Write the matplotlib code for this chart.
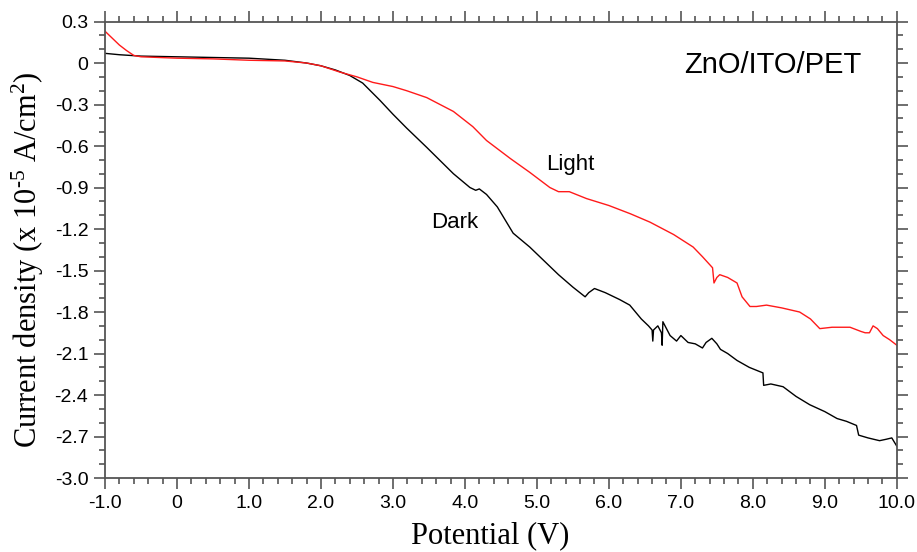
#!/usr/bin/env python3

import numpy as np
from matplotlib import pyplot as plt
from matplotlib.ticker import MultipleLocator

plt.rcParams["mathtext.fontset"] = "custom"
plt.rcParams["mathtext.rm"] = "Liberation Serif"
plt.rcParams["mathtext.it"] = "Liberation Serif:italic"

# Dark curve (black)
dark_v = [-1.0, -0.8, -0.5, 0.0, 0.5, 1.0, 1.5, 1.8, 2.0, 2.2, 2.4, 2.58,
          2.82, 3.0, 3.19, 3.47, 3.84, 4.07, 4.15, 4.2, 4.3, 4.45, 4.67,
          4.9, 5.14, 5.3, 5.5, 5.67, 5.72, 5.8, 5.95, 6.15, 6.29, 6.45, 6.55,
          6.6, 6.61, 6.62, 6.68, 6.73, 6.74, 6.75, 6.78, 6.85, 6.94, 7.0, 7.1,
          7.2, 7.3, 7.35, 7.43, 7.5, 7.55, 7.65, 7.78, 7.95, 8.14, 8.15, 8.25,
          8.42, 8.6, 8.79, 9.0, 9.17, 9.3, 9.44, 9.47, 9.6, 9.76, 9.85, 9.93,
          10.0]
dark_j = [0.07, 0.06, 0.05, 0.045, 0.04, 0.035, 0.02, 0.0, -0.02, -0.05,
          -0.09, -0.145, -0.27, -0.37, -0.47, -0.61, -0.80, -0.90,
          -0.92, -0.91, -0.95, -1.04, -1.23, -1.33, -1.45, -1.53, -1.62,
          -1.69, -1.66, -1.63, -1.66, -1.71, -1.75, -1.85, -1.90, -1.93,
          -2.01, -1.93, -1.90, -1.95, -2.04, -1.87, -1.90, -1.97, -2.01,
          -1.97, -2.02, -2.03, -2.06, -2.02, -1.99, -2.03, -2.07, -2.10,
          -2.15, -2.20, -2.24, -2.33, -2.32, -2.34, -2.41, -2.47, -2.52,
          -2.57, -2.59, -2.62, -2.69, -2.71, -2.73, -2.72, -2.71, -2.77]

# Light curve (red)
light_v = [-1.0, -0.9, -0.8, -0.7, -0.6, -0.5, 0.0, 0.5, 1.0, 1.5, 1.8, 2.0,
           2.26, 2.5, 2.72, 3.0, 3.19, 3.47, 3.84, 4.11, 4.3, 4.63, 4.9,
           5.18, 5.3, 5.45, 5.69, 6.0, 6.3, 6.57, 6.9, 7.17, 7.3, 7.44, 7.46,
           7.5, 7.54, 7.65, 7.78, 7.85, 7.96, 8.05, 8.19, 8.4, 8.65, 8.8,
           8.93, 9.1, 9.35, 9.5, 9.56, 9.62, 9.67, 9.73, 9.81, 9.9, 10.0]
light_j = [0.23, 0.18, 0.13, 0.09, 0.055, 0.045, 0.035, 0.03, 0.02, 0.015,
           0.0, -0.02, -0.065, -0.10, -0.14, -0.17, -0.20, -0.25, -0.35,
           -0.46, -0.56, -0.69, -0.79, -0.90, -0.93, -0.93, -0.98,
           -1.03, -1.09, -1.15, -1.24, -1.33, -1.40, -1.48, -1.59, -1.55,
           -1.53, -1.55, -1.59, -1.69, -1.76, -1.76, -1.75, -1.77, -1.80,
           -1.85, -1.92, -1.91, -1.91, -1.94, -1.95, -1.95, -1.90, -1.92,
           -1.97, -2.00, -2.04]

x_ticks = [-1, 0, 1, 2, 3, 4, 5, 6, 7, 8, 9, 10]
x_labels = ["-1.0", "0", "1.0", "2.0", "3.0", "4.0", "5.0", "6.0", "7.0",
            "8.0", "9.0", "10.0"]
y_ticks = [0.3, 0, -0.3, -0.6, -0.9, -1.2, -1.5, -1.8, -2.1, -2.4, -2.7, -3.0]
y_labels = ["0.3", "0", "-0.3", "-0.6", "-0.9", "-1.2", "-1.5", "-1.8",
            "-2.1", "-2.4", "-2.7", "-3.0"]

sans = "Liberation Sans"
serif = "Liberation Serif"
spine_col = "#555555"

fig = plt.figure(figsize=(9.17, 5.52), dpi=100)
ax = fig.add_axes([0.1145, 0.134, 0.8635, 0.827])

ax.plot(dark_v, dark_j, color="black", lw=1.0)
ax.plot(light_v, light_j, color="#ff1a1a", lw=1.0)

ax.set_xlim(-1, 10)
ax.set_ylim(-3.0, 0.3)

ax.set_xticks(x_ticks)
ax.set_xticklabels(x_labels, fontfamily=sans, fontsize=14)
ax.set_yticks(y_ticks)
ax.set_yticklabels(y_labels, fontfamily=sans, fontsize=14)
ax.xaxis.set_minor_locator(MultipleLocator(0.2))
ax.yaxis.set_minor_locator(MultipleLocator(0.1))

ax.tick_params(which="both", direction="out", top=True, right=True,
               color=spine_col, width=1.2)
ax.tick_params(which="major", length=8, pad=4)
ax.tick_params(which="minor", length=4)
for s in ax.spines.values():
    s.set_color(spine_col)
    s.set_linewidth(1.3)

ax.set_xlabel("Potential (V)", fontfamily=serif, fontsize=22)
ax.set_ylabel(r"Current density (x 10$^{\text{-}5}$ A/cm$^{2}$)",
              fontfamily=serif, fontsize=22)
ax.xaxis.set_label_coords(0.486, -0.095)
ax.yaxis.set_label_coords(-0.075, 0.478)

ax.text(0.955, 0.905, "ZnO/ITO/PET", transform=ax.transAxes, ha="right",
        va="center", fontfamily=sans, fontsize=21)
ax.text(5.46, -0.73, "Light", ha="center", va="center", fontfamily=sans,
        fontsize=16)
ax.text(3.86, -1.15, "Dark", ha="center", va="center", fontfamily=sans,
        fontsize=16)

plt.savefig("out.png", dpi=100)
